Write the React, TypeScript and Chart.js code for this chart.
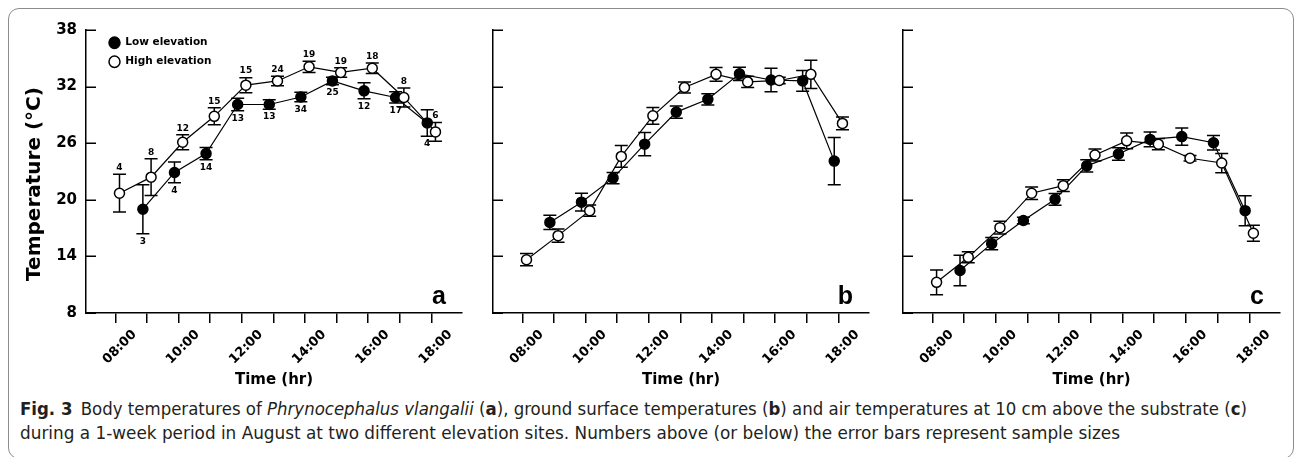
import React, { useEffect, useLayoutEffect, useRef, useState } from 'react';
import { Chart, registerables } from 'chart.js';

Chart.register(...registerables);

// ---------- data ----------
const hourTicks = [8, 9, 10, 11, 12, 13, 14, 15, 16, 17, 18];
const hourLabels = ['08:00', '', '10:00', '', '12:00', '', '14:00', '', '16:00', '', '18:00'];
const tempTicks = [8, 14, 20, 26, 32, 38];

const lowTimes = [8.87, 9.87, 10.87, 11.87, 12.87, 13.87, 14.87, 15.87, 16.87, 17.87];
const highTimes = [8.13, 9.13, 10.13, 11.13, 12.13, 13.13, 14.13, 15.13, 16.13, 17.13, 18.13];

// (a) body temperatures
const bodyLow = [19.0, 22.9, 24.9, 30.1, 30.1, 30.9, 32.6, 31.55, 30.85, 28.15];
const bodyLowErr = [2.6, 1.1, 0.65, 0.67, 0.5, 0.5, 0.4, 0.85, 0.6, 1.4];
const bodyLowN = [3, 4, 14, 13, 13, 34, 25, 12, 17, 4];
const bodyHigh = [20.7, 22.4, 26.1, 28.85, 32.15, 32.6, 34.1, 33.5, 33.95, 30.85, 27.2];
const bodyHighErr = [2.0, 1.95, 0.8, 0.9, 0.8, 0.5, 0.6, 0.5, 0.55, 1.0, 1.0];
const bodyHighN = [4, 8, 12, 15, 15, 24, 19, 19, 18, 8, 6];

// (b) ground surface temperatures
const groundLow = [17.6, 19.75, 22.3, 25.9, 29.3, 30.65, 33.35, 32.7, 32.6, 24.1];
const groundLowErr = [0.75, 0.95, 0.6, 1.24, 0.65, 0.6, 0.7, 1.24, 1.1, 2.5];
const groundHigh = [13.65, 16.2, 18.85, 24.6, 28.9, 31.9, 33.3, 32.5, 32.65, 33.3, 28.1];
const groundHighErr = [0.65, 0.7, 0.6, 1.15, 0.88, 0.58, 0.72, 0.6, 0.35, 1.5, 0.67];

// (c) air temperatures at 10 cm
const airLow = [12.5, 15.35, 17.8, 20.05, 23.6, 24.85, 26.4, 26.7, 26.05, 18.85];
const airLowErr = [1.62, 0.65, 0.35, 0.62, 0.65, 0.67, 0.78, 0.92, 0.76, 1.59];
const airHigh = [11.25, 13.9, 17.05, 20.7, 21.5, 24.75, 26.25, 25.9, 24.4, 23.9, 16.45];
const airHighErr = [1.32, 0.58, 0.67, 0.67, 0.62, 0.63, 0.83, 0.6, 0.3, 1.02, 0.85];

const seriesLabels = ['Low elevation', 'High elevation'];
const panelLetters = ['a', 'b', 'c'];
const xTitle = 'Time (hr)';
const yTitle = 'Temperature (\u00B0C)';

// ---------- styling ----------
const WIDE = 'DejaVu Sans, Verdana, sans-serif';

type PanelSpec = {
  letter: string;
  low: number[]; lowErr: number[]; lowN?: number[];
  high: number[]; highErr: number[]; highN?: number[];
  left: number; width: number; yWidth: number; padRight: number;
  showYLabels: boolean; legend: boolean;
};

const panels: PanelSpec[] = [
  { letter: panelLetters[0], low: bodyLow, lowErr: bodyLowErr, lowN: bodyLowN, high: bodyHigh, highErr: bodyHighErr, highN: bodyHighN,
    left: 0, width: 478, yWidth: 86, padRight: 16, showYLabels: true, legend: true },
  { letter: panelLetters[1], low: groundLow, lowErr: groundLowErr, high: groundHigh, highErr: groundHighErr,
    left: 478, width: 400, yWidth: 15, padRight: 9, showYLabels: false, legend: false },
  { letter: panelLetters[2], low: airLow, lowErr: airLowErr, high: airHigh, highErr: airHighErr,
    left: 878, width: 417, yWidth: 25, padRight: 15, showYLabels: false, legend: false },
];

const CANVAS_H = 392;
const X_H = 79;

function makePlugin(p: PanelSpec) {
  return {
    id: 'panelExtras',
    afterLayout(chart: any) {
      if (p.legend && chart.legend) {
        const lg = chart.legend;
        const w = lg.width, h = lg.height;
        lg.left = chart.chartArea.left + 14.5;
        lg.right = lg.left + w;
        lg.top = chart.chartArea.top - 1;
        lg.bottom = lg.top + h;
      }
    },
    beforeDatasetsDraw(chart: any) {
      const { ctx } = chart;
      const xs = chart.scales.x, ys = chart.scales.y;
      ctx.save();
      ctx.strokeStyle = '#000';
      ctx.lineWidth = 1.5;
      chart.data.datasets.forEach((ds: any) => {
        ds.data.forEach((pt: any, i: number) => {
          const e = ds.errors[i];
          const x = xs.getPixelForValue(pt.x);
          const y1 = ys.getPixelForValue(pt.y + e);
          const y2 = ys.getPixelForValue(pt.y - e);
          ctx.beginPath();
          ctx.moveTo(x, y1); ctx.lineTo(x, y2);
          ctx.moveTo(x - 6.5, y1); ctx.lineTo(x + 6.5, y1);
          ctx.moveTo(x - 6.5, y2); ctx.lineTo(x + 6.5, y2);
          ctx.stroke();
        });
      });
      ctx.restore();
    },
    afterDatasetsDraw(chart: any) {
      const { ctx } = chart;
      const xs = chart.scales.x, ys = chart.scales.y;
      ctx.save();
      ctx.fillStyle = '#000';
      ctx.font = `bold 9px ${WIDE}`;
      ctx.textAlign = 'center';
      chart.data.datasets.forEach((ds: any) => {
        if (!ds.counts) return;
        ds.data.forEach((pt: any, i: number) => {
          const e = ds.errors[i];
          const x = xs.getPixelForValue(pt.x);
          if (ds.countSide === 'above') {
            ctx.textBaseline = 'bottom';
            ctx.fillText(String(ds.counts[i]), x, ys.getPixelForValue(pt.y + e) - 2);
          } else {
            ctx.textBaseline = 'top';
            ctx.fillText(String(ds.counts[i]), x, ys.getPixelForValue(pt.y - e) + 3);
          }
        });
      });
      ctx.restore();
    },
    afterDraw(chart: any) {
      const { ctx, chartArea } = chart;
      const ys = chart.scales.y;
      ctx.save();
      ctx.strokeStyle = '#000';
      ctx.lineWidth = 1.5;
      ctx.beginPath();
      tempTicks.forEach((v) => {
        const y = Math.round(ys.getPixelForValue(v)) + 0.25;
        ctx.moveTo(chartArea.left, y);
        ctx.lineTo(chartArea.left + 10, y);
      });
      ctx.stroke();
      ctx.fillStyle = '#000';
      ctx.font = `bold 25px "Liberation Sans", Arial, sans-serif`;
      ctx.textAlign = 'right';
      ctx.textBaseline = 'alphabetic';
      ctx.fillText(p.letter, chartArea.right - 16, chartArea.bottom - 9);
      if (p.showYLabels) {
        ctx.translate(35, 184);
        ctx.rotate(-Math.PI / 2);
        ctx.textAlign = 'center';
        ctx.textBaseline = 'middle';
        ctx.font = `bold 20px ${WIDE}`;
        ctx.fillText(yTitle, 0, 0);
      }
      ctx.restore();
    },
  };
}

function buildConfig(p: PanelSpec): any {
  const datasets = [
    {
      label: seriesLabels[1],
      data: highTimes.map((t, i) => ({ x: t, y: p.high[i] })),
      errors: p.highErr, counts: p.highN, countSide: 'above',
      backgroundColor: '#ffffff', borderColor: '#000000', borderWidth: 1.2,
      pointRadius: 5, pointBorderWidth: 1.5, pointBackgroundColor: '#ffffff', pointBorderColor: '#000000',
      pointStyle: 'circle', tension: 0, fill: false,
    },
    {
      label: seriesLabels[0],
      data: lowTimes.map((t, i) => ({ x: t, y: p.low[i] })),
      errors: p.lowErr, counts: p.lowN, countSide: 'below',
      backgroundColor: '#000000', borderColor: '#000000', borderWidth: 1.2,
      pointRadius: 5, pointBorderWidth: 1.5, pointBackgroundColor: '#000000', pointBorderColor: '#000000',
      pointStyle: 'circle', tension: 0, fill: false,
    },
  ];
  return {
    type: 'line',
    data: { datasets },
    plugins: [makePlugin(p)],
    options: {
      animation: false,
      responsive: false,
      maintainAspectRatio: false,
      layout: { padding: { top: 30, right: p.padRight, left: 0, bottom: 0 } },
      plugins: {
        tooltip: { enabled: false },
        legend: {
          display: p.legend,
          position: 'chartArea',
          align: 'start',
          labels: {
            usePointStyle: true,
            pointStyleWidth: 11,
            boxHeight: 8,
            padding: 8.5,
            color: '#000',
            font: { family: WIDE, weight: 'bold', size: 10.5 },
            sort: (a: any, b: any) => b.datasetIndex - a.datasetIndex,
          },
        },
      },
      scales: {
        x: {
          type: 'linear',
          min: 7.07,
          max: 18.97,
          afterBuildTicks: (s: any) => { s.ticks = hourTicks.map((v) => ({ value: v })); },
          afterFit: (s: any) => { s.height = X_H; s.paddingLeft = 0; s.paddingRight = 0; },
          ticks: {
            autoSkip: false,
            minRotation: 45,
            maxRotation: 45,
            padding: 4,
            labelOffset: 19,
            color: '#000',
            font: { family: WIDE, weight: 'bold', size: 13 },
            callback: (v: number) => hourLabels[hourTicks.indexOf(v)] ?? '',
          },
          grid: { display: true, drawOnChartArea: false, drawTicks: true, tickLength: 10, color: '#000', lineWidth: 1.5 },
          border: { display: true, color: '#000', width: 1.5 },
          title: {
            display: true, text: xTitle, color: '#000',
            font: { family: WIDE, weight: 'bold', size: 15 },
            padding: { top: 0, bottom: 3 },
          },
        },
        y: {
          type: 'linear',
          min: 8,
          max: 38,
          afterBuildTicks: (s: any) => { s.ticks = tempTicks.map((v) => ({ value: v })); },
          afterFit: (s: any) => { s.width = p.yWidth; s.paddingTop = 0; s.paddingBottom = 0; },
          ticks: {
            display: p.showYLabels,
            padding: 9,
            color: '#000',
            font: { family: WIDE, weight: 'bold', size: 15 },
          },
          grid: { display: false, drawTicks: false },
          border: { display: true, color: '#000', width: 1.5 },
          title: { display: false },
        },
      },
    },
  };
}

function Caption() {
  const l1 = useRef<HTMLSpanElement>(null);
  const l2 = useRef<HTMLSpanElement>(null);
  const [scales, setScales] = useState([1, 1]);
  useLayoutEffect(() => {
    const w1 = l1.current ? l1.current.getBoundingClientRect().width : 0;
    const w2 = l2.current ? l2.current.getBoundingClientRect().width : 0;
    setScales([w1 > 0 ? 1227 / w1 : 1, w2 > 0 ? 1100 / w2 : 1]);
  }, []);
  const lineStyle: React.CSSProperties = {
    position: 'absolute', left: 20, whiteSpace: 'nowrap', display: 'inline-block',
    transformOrigin: 'left center', lineHeight: '24px',
  };
  return (
    <div style={{ position: 'absolute', left: 0, top: 0, fontFamily: "'Liberation Sans Narrow', 'DejaVu Sans Condensed', 'Open Sans', sans-serif", fontSize: 17, color: '#231f20' }}>
      <span ref={l1} style={{ ...lineStyle, top: 397, transform: `scaleX(${scales[0]})` }}>
        <b>Fig. 3</b>{'\u2002'}Body temperatures of <i>Phrynocephalus vlangalii</i> (<b>a</b>), ground surface temperatures (<b>b</b>) and air temperatures at 10 cm above the substrate (<b>c</b>)
      </span>
      <span ref={l2} style={{ ...lineStyle, top: 421, transform: `scaleX(${scales[1]})` }}>
        during a 1-week period in August at two different elevation sites. Numbers above (or below) the error bars represent sample sizes
      </span>
    </div>
  );
}

export default function App() {
  const refs = [useRef<HTMLCanvasElement>(null), useRef<HTMLCanvasElement>(null), useRef<HTMLCanvasElement>(null)];
  useEffect(() => {
    const charts = panels.map((p, i) => new Chart(refs[i].current as HTMLCanvasElement, buildConfig(p)));
    return () => charts.forEach((c) => c.destroy());
  }, []);
  return (
    <div style={{ position: 'absolute', left: 0, top: 0, width: 1295, height: 457, overflow: 'hidden', background: '#fff' }}>
      <div style={{ position: 'absolute', left: 8, top: 8, width: 1286, height: 451, boxSizing: 'border-box', border: '1.5px solid #8c8c8c', borderRadius: 11 }} />
      {panels.map((p, i) => (
        <canvas key={i} ref={refs[i]} width={p.width} height={CANVAS_H}
          style={{ position: 'absolute', left: p.left, top: 0, width: p.width, height: CANVAS_H }} />
      ))}
      <Caption />
    </div>
  );
}
